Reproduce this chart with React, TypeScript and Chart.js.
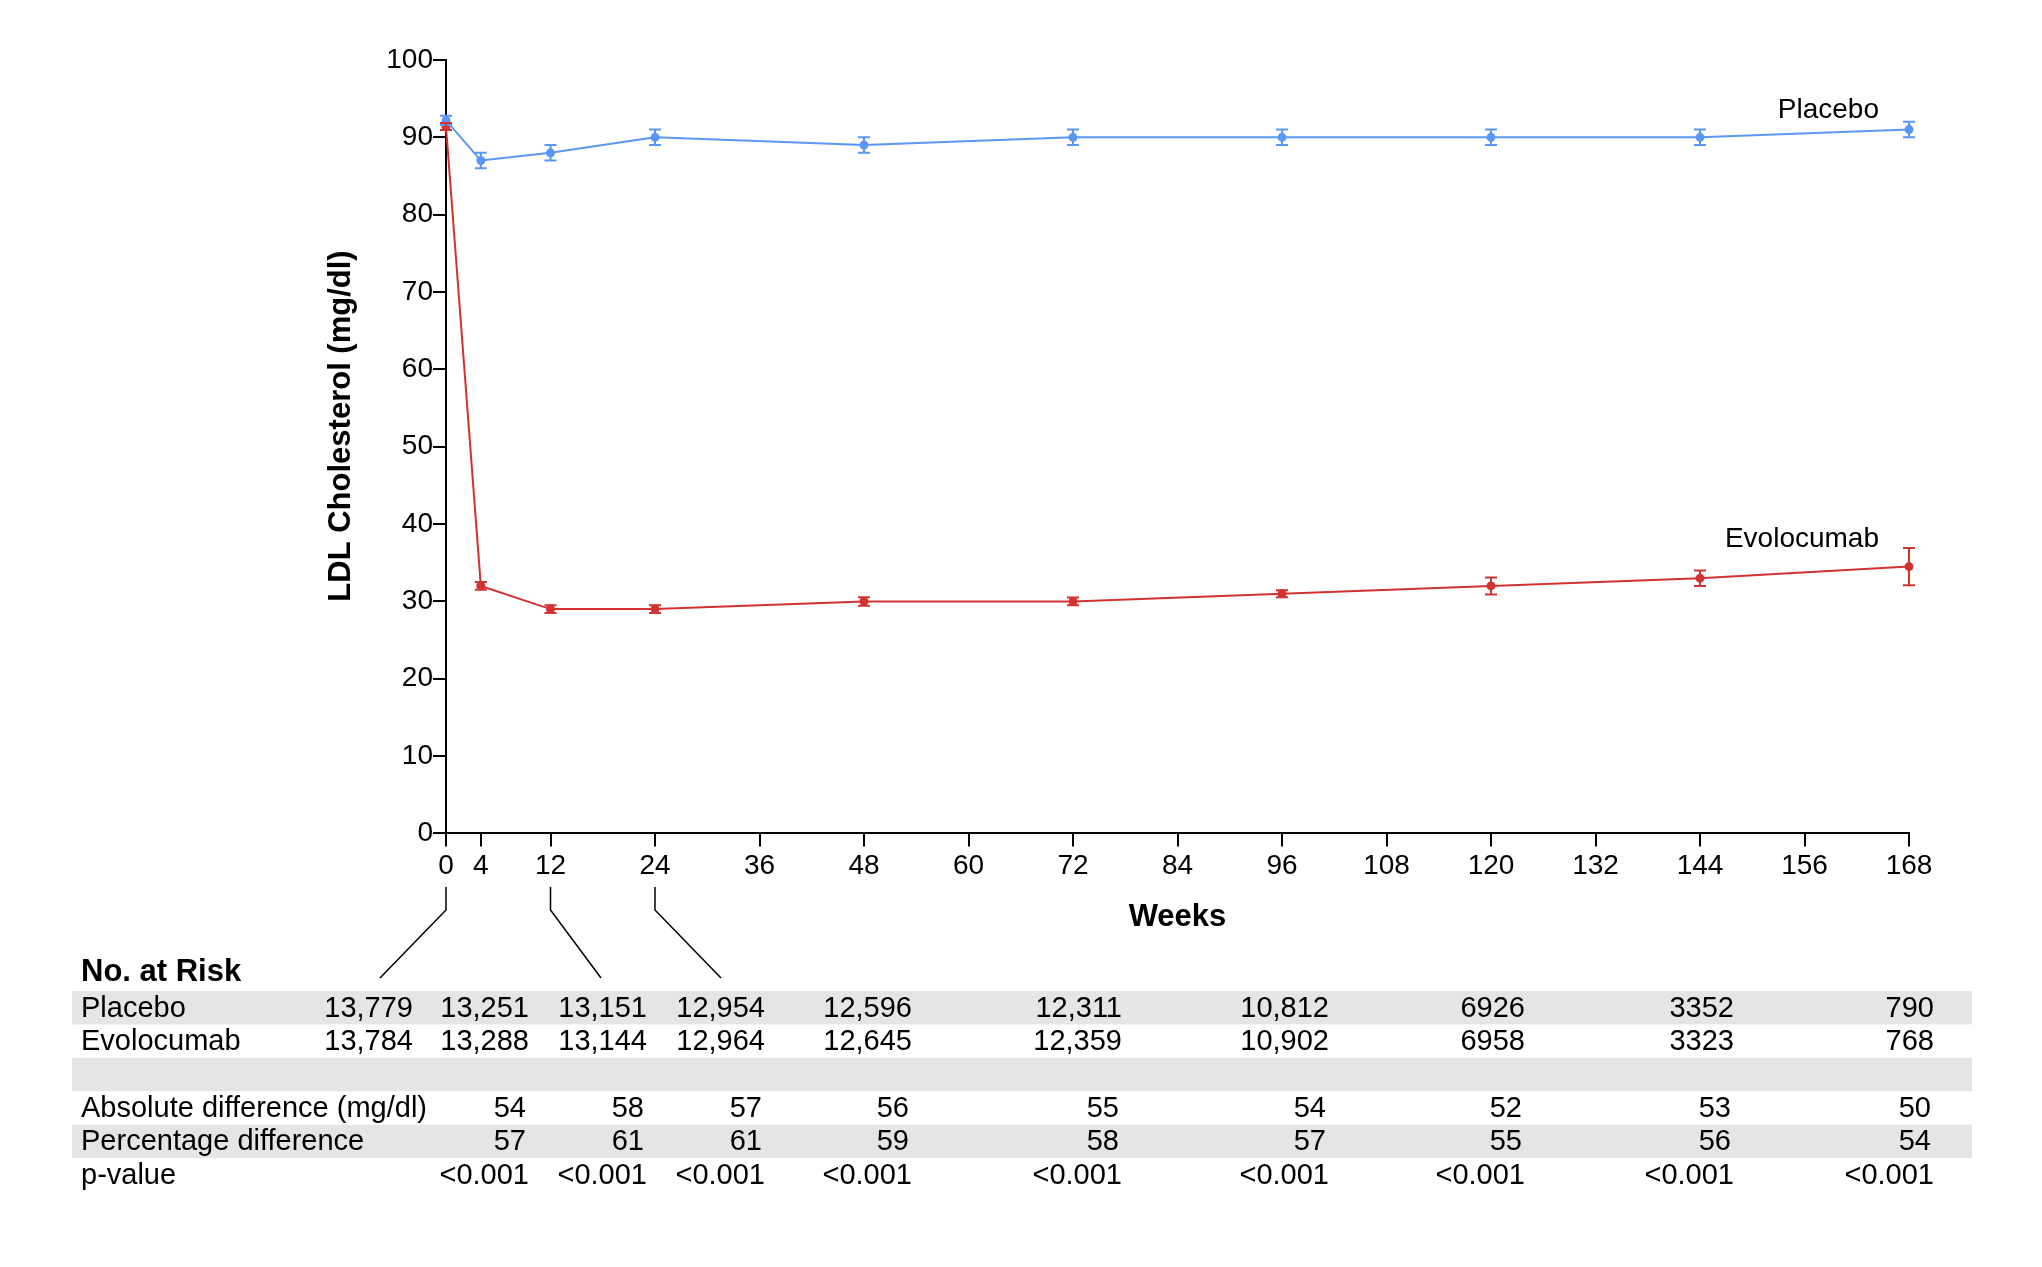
import React, { useEffect, useRef } from "react";
import { Chart, registerables } from "chart.js";

Chart.register(...registerables);

// ---- data ----
const weeks = [0, 4, 12, 24, 48, 72, 96, 120, 144, 168];
const xTickValues = [0, 4, 12, 24, 36, 48, 60, 72, 84, 96, 108, 120, 132, 144, 156, 168];
const placeboLDL = [92.2, 87, 88, 90, 89, 90, 90, 90, 90, 91];
const placeboErr = [0.6, 1, 1, 1, 1, 1, 1, 1, 1, 1];
const evolocumabLDL = [91.4, 32, 29, 29, 30, 30, 31, 32, 33, 34.5];
const evolocumabErr = [0.45, 0.5, 0.5, 0.5, 0.55, 0.5, 0.45, 1.1, 1, 2.4];

const placeboAtRisk = [13779, 13251, 13151, 12954, 12596, 12311, 10812, 6926, 3352, 790];
const evolocumabAtRisk = [13784, 13288, 13144, 12964, 12645, 12359, 10902, 6958, 3323, 768];
const absoluteDiff = [54, 58, 57, 56, 55, 54, 52, 53, 50];
const percentageDiff = [57, 61, 61, 59, 58, 57, 55, 56, 54];
const pValues = ["<0.001", "<0.001", "<0.001", "<0.001", "<0.001", "<0.001", "<0.001", "<0.001", "<0.001"];

const rowLabels = ["Placebo", "Evolocumab", "", "Absolute difference (mg/dl)", "Percentage difference", "p-value"];
const connectorWeeks = [0, 12, 24];

// ---- layout / styles ----
const W = 2042;
const H = 1267;
const FONT = "'Liberation Sans', Arial, Helvetica, sans-serif";
const BLUE = "#5a96f5";
const RED = "#d13232";
const BAND = "#e5e5e5";
const colRight = [413, 529, 647, 765, 912, 1122, 1329, 1525, 1734, 1934];
const connectorEndX = [380, 601, 721];
const rowTop = 991;
const rowH = 33.4;
const bandLeft = 72;
const bandRight = 1972;
const labelLeft = 81;

function fmtCount(n: number): string {
  return n >= 10000 ? n.toLocaleString("en-US") : String(n);
}

const overlayPlugin = {
  id: "overlay",
  afterDatasetsDraw(chart: any) {
    const { ctx } = chart;
    const xs = chart.scales.x;
    const ys = chart.scales.y;
    const drawBars = (vals: number[], errs: number[], color: string) => {
      ctx.save();
      ctx.strokeStyle = color;
      ctx.lineWidth = 2;
      vals.forEach((v, i) => {
        const x = xs.getPixelForValue(weeks[i]);
        const y1 = ys.getPixelForValue(v + errs[i]);
        const y2 = ys.getPixelForValue(v - errs[i]);
        ctx.beginPath();
        ctx.moveTo(x, y1);
        ctx.lineTo(x, y2);
        ctx.moveTo(x - 6, y1);
        ctx.lineTo(x + 6, y1);
        ctx.moveTo(x - 6, y2);
        ctx.lineTo(x + 6, y2);
        ctx.stroke();
      });
      ctx.restore();
    };
    drawBars(placeboLDL, placeboErr, BLUE);
    drawBars(evolocumabLDL, evolocumabErr, RED);
  },
  afterDraw(chart: any) {
    const { ctx } = chart;
    const xs = chart.scales.x;
    const ys = chart.scales.y;
    ctx.save();
    ctx.fillStyle = "#000";
    ctx.textBaseline = "middle";

    // series labels
    ctx.font = `28px ${FONT}`;
    ctx.textAlign = "right";
    const lx = xs.getPixelForValue(168) - 30;
    ctx.fillText("Placebo", lx, ys.getPixelForValue(placeboLDL[placeboLDL.length - 1]) - 19);
    ctx.fillText("Evolocumab", lx, ys.getPixelForValue(evolocumabLDL[evolocumabLDL.length - 1]) - 27);

    // y title
    ctx.save();
    ctx.translate(341, 426);
    ctx.rotate(-Math.PI / 2);
    ctx.textAlign = "center";
    ctx.font = `bold 31px ${FONT}`;
    ctx.fillText("LDL Cholesterol (mg/dl)", 0, 0);
    ctx.restore();

    // connectors
    ctx.strokeStyle = "#000";
    ctx.lineWidth = 1.5;
    connectorWeeks.forEach((w, i) => {
      const x = xs.getPixelForValue(w);
      ctx.beginPath();
      ctx.moveTo(x, 887);
      ctx.lineTo(x, 910);
      ctx.lineTo(connectorEndX[i], 978);
      ctx.stroke();
    });

    // table bands
    ctx.fillStyle = BAND;
    [0, 2, 4].forEach((r) => {
      ctx.fillRect(bandLeft, rowTop + r * rowH, bandRight - bandLeft, rowH);
    });

    ctx.fillStyle = "#000";
    ctx.textAlign = "left";
    ctx.font = `bold 31px ${FONT}`;
    ctx.fillText("No. at Risk", labelLeft, 972);

    ctx.font = `29px ${FONT}`;
    const rowY = (r: number) => rowTop + r * rowH + rowH / 2 + 1;
    rowLabels.forEach((lab, r) => {
      if (lab) ctx.fillText(lab, labelLeft, rowY(r));
    });
    ctx.textAlign = "right";
    placeboAtRisk.forEach((n, i) => ctx.fillText(fmtCount(n), colRight[i], rowY(0)));
    evolocumabAtRisk.forEach((n, i) => ctx.fillText(fmtCount(n), colRight[i], rowY(1)));
    absoluteDiff.forEach((n, i) => ctx.fillText(String(n), colRight[i + 1] - 3, rowY(3)));
    percentageDiff.forEach((n, i) => ctx.fillText(String(n), colRight[i + 1] - 3, rowY(4)));
    pValues.forEach((s, i) => ctx.fillText(s, colRight[i + 1], rowY(5)));
    ctx.restore();
  },
};

export default function App() {
  const ref = useRef<HTMLCanvasElement | null>(null);
  useEffect(() => {
    if (!ref.current) return;
    Chart.defaults.font.family = FONT;
    Chart.defaults.color = "#000";
    const chart = new Chart(ref.current, {
      type: "line",
      data: {
        datasets: [
          {
            label: "Evolocumab",
            data: weeks.map((w, i) => ({ x: w, y: evolocumabLDL[i] })),
            borderColor: RED,
            backgroundColor: RED,
            pointBackgroundColor: RED,
            pointBorderColor: RED,
            borderWidth: 2,
            pointRadius: 3.5,
            tension: 0,
            clip: false,
            order: 1,
          },
          {
            label: "Placebo",
            data: weeks.map((w, i) => ({ x: w, y: placeboLDL[i] })),
            borderColor: BLUE,
            backgroundColor: BLUE,
            pointBackgroundColor: BLUE,
            pointBorderColor: BLUE,
            borderWidth: 2,
            pointRadius: 3.5,
            tension: 0,
            clip: false,
            order: 0,
          },
        ],
      },
      options: {
        animation: false,
        responsive: true,
        maintainAspectRatio: false,
        layout: { padding: { left: 346, right: 133, top: 60, bottom: 331 } },
        plugins: { legend: { display: false }, tooltip: { enabled: false } },
        scales: {
          x: {
            type: "linear",
            min: 0,
            max: 168,
            afterBuildTicks: (scale: any) => {
              scale.ticks = xTickValues.map((v) => ({ value: v }));
            },
            afterFit: (scale: any) => {
              scale.height = 102.6;
            },
            ticks: {
              autoSkip: false,
              maxRotation: 0,
              padding: 3,
              font: { size: 28, family: FONT },
              color: "#000",
              callback: (v: any) => String(v),
            },
            grid: { display: true, drawOnChartArea: false, drawTicks: true, tickLength: 13, color: "#000", lineWidth: 2 },
            border: { display: true, color: "#000", width: 2 },
            title: { display: true, text: "Weeks", font: { size: 31, weight: "bold", family: FONT }, color: "#000", padding: 0 },
          },
          y: {
            min: 0,
            max: 100,
            afterFit: (scale: any) => {
              scale.width = 100;
            },
            ticks: { stepSize: 10, padding: 0, font: { size: 28, family: FONT }, color: "#000" },
            grid: { display: true, drawOnChartArea: false, drawTicks: true, tickLength: 13, color: "#000", lineWidth: 2 },
            border: { display: true, color: "#000", width: 2 },
          },
        },
      },
      plugins: [overlayPlugin],
    });
    return () => chart.destroy();
  }, []);
  return (
    <div style={{ position: "fixed", left: 0, top: 0, width: W, height: H, background: "#fff" }}>
      <canvas ref={ref} />
    </div>
  );
}
